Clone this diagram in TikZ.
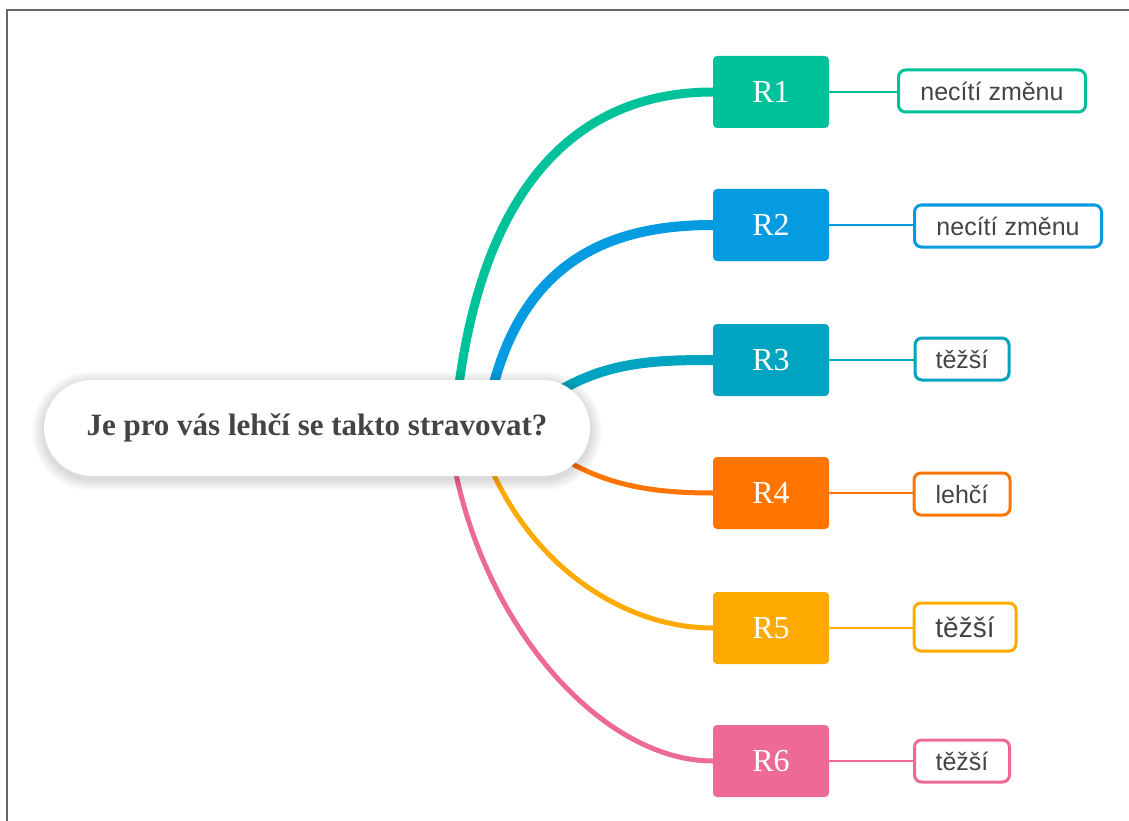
\documentclass[tikz,border=0pt]{standalone}
\usepackage{fontspec}
\setmainfont{Liberation Serif}
\newfontfamily\leaffont{Liberation Sans}
\usetikzlibrary{backgrounds}

\definecolor{cone}{HTML}{00C29A}
\definecolor{ctwo}{HTML}{049BE0}
\definecolor{cthree}{HTML}{00A4C0}
\definecolor{cfour}{HTML}{FF7500}
\definecolor{cfive}{HTML}{FFAA00}
\definecolor{csix}{HTML}{EE6A96}
\definecolor{textgray}{HTML}{444444}
\definecolor{framegray}{HTML}{666666}

\begin{document}
\begin{tikzpicture}[x=1pt,y=-1pt,
  answer/.style={fill=#1, text=white, rounded corners=4pt, minimum width=116pt,
    minimum height=72pt, inner sep=0pt, font=\fontsize{32}{32}\selectfont},
  leaf/.style={draw=#1, line width=3pt, fill=white, rounded corners=7pt,
    minimum height=42pt, inner sep=0pt, text=textgray,
    font=\leaffont\fontsize{25}{25}\selectfont},
  branch/.style={draw=#1, line width=5pt},
  twig/.style={draw=#1, line width=2pt}]
  \useasboundingbox (0,0) rectangle (1129,821);
  % window frame
  \draw[framegray, line width=1.5pt] (7,821) -- (7,10) -- (1129,10);

  % central topic
  \node[fill=white, rounded corners=48pt, minimum width=546pt, minimum height=96pt,
    text=textgray, font=\bfseries\fontsize{31}{31}\selectfont] (root) at (317,428)
    {Je pro vás lehčí se takto stravovat?};

  % respondents
  \foreach \i/\y/\c in {1/92/cone,2/225/ctwo,3/360/cthree,4/493/cfour,5/628/cfive,6/761/csix}
    \node[answer=\c] (r\i) at (771,\y) {R\i};

  % answers
  \node[leaf=cone, minimum width=187pt] (l1) at (992,91) {necítí změnu};
  \node[leaf=ctwo, minimum width=187pt] (l2) at (1008,226) {necítí změnu};
  \node[leaf=cthree, minimum width=94pt] (l3) at (962,359) {těžší};
  \node[leaf=cfour, minimum width=96pt] (l4) at (962,494) {lehčí};
  \node[leaf=cfive, minimum width=102pt, minimum height=48pt,
    font=\leaffont\fontsize{28}{28}\selectfont] (l5) at (965,627) {těžší};
  \node[leaf=csix, minimum width=95pt] (l6) at (962,761) {těžší};

  % branch roots, hidden behind the topic
  \coordinate (s1) at (455,420);
  \coordinate (s2) at (486,420);
  \coordinate (s3) at (545,400);
  \coordinate (s4) at (550,450);
  \coordinate (s5) at (480,440);
  \coordinate (s6) at (450,440);

  \begin{scope}[on background layer]
    \draw[branch=cone, line width=9pt] (s1) .. controls (478,170) and (590,92) .. (r1.west);
    \draw[branch=ctwo, line width=10pt] (s2) .. controls (513,260) and (610,225) .. (r2.west);
    \draw[branch=cthree, line width=10pt] (s3) .. controls (600,362) and (650,360) .. (r3.west);
    \draw[branch=cfour] (s4) .. controls (600,485) and (650,493) .. (r4.west);
    \draw[branch=cfive] (s5) .. controls (520,560) and (620,628) .. (r5.west);
    \draw[branch=csix] (s6) .. controls (475,620) and (600,761) .. (r6.west);
    \foreach \i/\c in {1/cone,2/ctwo,3/cthree,4/cfour,5/cfive,6/csix}
      \draw[twig=\c] (r\i.east) -- (l\i.west |- r\i.east);
    % soft shadow of the topic
    \foreach \k in {1,...,12}
      \fill[black, fill opacity=0.012, rounded corners={48pt+\k pt}]
        ([shift={({-\k pt},{-\k pt-3pt})}]root.south west) rectangle
        ([shift={({\k pt},{\k pt-3pt})}]root.north east);
  \end{scope}
\end{tikzpicture}
\end{document}
